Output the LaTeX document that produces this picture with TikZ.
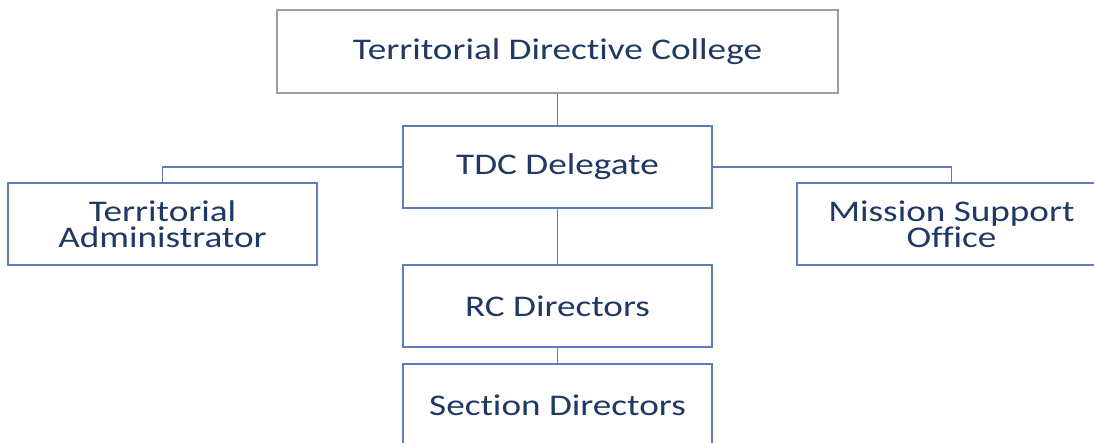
\documentclass[tikz,border=0pt]{standalone}
\usepackage{fontspec}
\setmainfont{Carlito}[FakeStretch=1.24,Ligatures=NoCommon]
\definecolor{boxblue}{HTML}{5B7DB8}
\definecolor{boxgray}{HTML}{9E9E9E}
\definecolor{txtnavy}{HTML}{1F3864}
\begin{document}
\begin{tikzpicture}[x=1pt,y=-1pt,
  orgbox/.style={draw=boxblue,line width=1.3pt,fill=white,minimum width=309pt,minimum height=82pt,
    inner sep=0pt,align=center,text=txtnavy,font=\fontsize{30}{26}\selectfont},
  link/.style={draw=boxblue,line width=1.3pt}]
\useasboundingbox (0,0) rectangle (1094,443);
\clip (0,0) rectangle (1094,443);
\node[orgbox,draw=boxgray,minimum width=561pt,minimum height=83pt] (tdc) at (557.5,51.5) {Territorial Directive College};
\node[orgbox] (del) at (557.5,167) {TDC Delegate};
\node[orgbox] (ta) at (162.5,224) {Territorial\\Administrator};
\node[orgbox] (mso) at (951.5,224) {Mission Support\\Office};
\node[orgbox] (rc) at (557.5,306) {RC Directors};
\node[orgbox] (sd) at (557.5,405) {Section Directors};
\draw[link] (tdc.south) -- (del.north);
\draw[link] (del.west) -- (ta.north |- del.west) -- (ta.north);
\draw[link] (del.east) -- (mso.north |- del.east) -- (mso.north);
\draw[link] (del.south) -- (rc.north);
\draw[link] (rc.south) -- (sd.north);
\end{tikzpicture}
\end{document}
